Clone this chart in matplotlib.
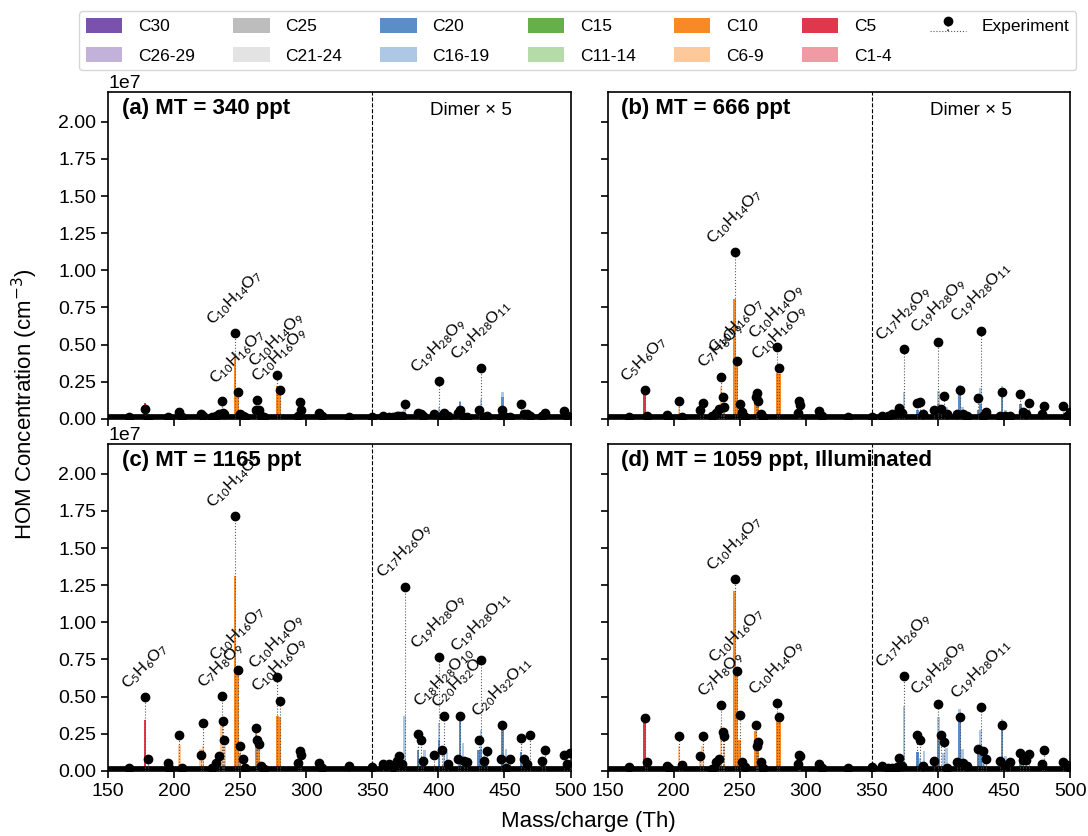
import re
import numpy as np
import matplotlib
matplotlib.use("Agg")
import matplotlib.pyplot as plt
from matplotlib.patches import Patch
from matplotlib.ticker import MultipleLocator

plt.rcParams['font.family'] = ['Liberation Sans', 'DejaVu Sans']
plt.rcParams['mathtext.fontset'] = 'custom'
plt.rcParams['mathtext.rm'] = 'Lato'
plt.rcParams['mathtext.it'] = 'Lato:italic'
plt.rcParams['mathtext.bf'] = 'Lato:bold'

# ---- data (concentrations in units of 1e7 cm-3; dimer region shown x5) ----
panel_titles = ['(a) MT = 340 ppt', '(b) MT = 666 ppt',
                '(c) MT = 1165 ppt', '(d) MT = 1059 ppt, Illuminated']

exp_mz = [166.0, 178.0, 180.0, 195.0, 196.5, 204.0, 206.0, 220.0, 222.0, 229.0,
          232.0, 234.0, 236.0, 237.0, 238.0, 246.1, 248.1, 250.0, 252.0, 254.0,
          262.0, 263.0, 264.0, 266.0, 268.0, 278.1, 280.1, 294.0, 295.0, 296.0,
          310.0, 312.0, 332.0, 350.0, 358.0, 362.5, 365.5, 369.0, 370.5, 372.5,
          374.4, 384.5, 386.5, 388.5, 397.0, 400.4, 402.5, 404.4, 407.0, 414.5,
          416.5, 419.0, 422.0, 430.4, 432.4, 434.5, 436.5, 447.0, 448.5, 451.0,
          454.5, 462.5, 464.5, 467.0, 469.0, 478.5, 480.5, 494.8, 497.5, 499.8]

exp_a = [0.01, 0.07, 0.0, 0.01, 0.0, 0.05, 0.01, 0.03, 0.02, 0.01,
         0.02, 0.034, 0.123, 0.038, 0.03, 0.58, 0.18, 0.03, 0.02, 0.01,
         0.06, 0.13, 0.06, 0.02, 0.01, 0.297, 0.194, 0.02, 0.116, 0.06,
         0.04, 0.02, 0.01, 0.01, 0.02, 0.015, 0.015, 0.02, 0.02, 0.02,
         0.10, 0.04, 0.03, 0.02, 0.03, 0.256, 0.02, 0.04, 0.02, 0.04,
         0.06, 0.01, 0.01, 0.063, 0.343, 0.01, 0.02, 0.01, 0.063, 0.01,
         0.01, 0.10, 0.034, 0.03, 0.02, 0.02, 0.04, 0.054, 0.02, 0.01]

exp_b = [0.015, 0.194, 0.02, 0.027, 0.0, 0.12, 0.01, 0.062, 0.11, 0.02,
         0.038, 0.067, 0.285, 0.15, 0.078, 1.12, 0.388, 0.10, 0.045, 0.01,
         0.145, 0.174, 0.12, 0.033, 0.01, 0.483, 0.345, 0.04, 0.12, 0.094,
         0.056, 0.018, 0.015, 0.015, 0.02, 0.02, 0.03, 0.04, 0.074, 0.04,
         0.469, 0.106, 0.112, 0.03, 0.06, 0.52, 0.07, 0.155, 0.03, 0.03,
         0.195, 0.03, 0.02, 0.139, 0.595, 0.02, 0.05, 0.02, 0.184, 0.02,
         0.02, 0.168, 0.05, 0.03, 0.106, 0.03, 0.09, 0.088, 0.02, 0.05]

exp_c = [0.018, 0.497, 0.08, 0.052, 0.02, 0.244, 0.023, 0.108, 0.32, 0.018,
         0.056, 0.10, 0.503, 0.336, 0.21, 1.716, 0.682, 0.17, 0.08, 0.02,
         0.289, 0.208, 0.18, 0.034, 0.01, 0.632, 0.474, 0.056, 0.131, 0.108,
         0.056, 0.02, 0.034, 0.03, 0.045, 0.05, 0.03, 0.067, 0.10, 0.05,
         1.24, 0.252, 0.208, 0.067, 0.105, 0.764, 0.14, 0.373, 0.05, 0.078,
         0.369, 0.067, 0.06, 0.208, 0.748, 0.07, 0.134, 0.083, 0.306, 0.02,
         0.083, 0.219, 0.083, 0.045, 0.239, 0.07, 0.139, 0.105, 0.045, 0.123]

exp_d = [0.03, 0.353, 0.063, 0.034, 0.02, 0.233, 0.04, 0.10, 0.238, 0.016,
         0.063, 0.081, 0.443, 0.26, 0.238, 1.29, 0.674, 0.376, 0.063, 0.03,
         0.308, 0.17, 0.192, 0.057, 0.018, 0.455, 0.362, 0.045, 0.109, 0.10,
         0.045, 0.018, 0.02, 0.027, 0.034, 0.02, 0.022, 0.03, 0.085, 0.034,
         0.64, 0.242, 0.206, 0.034, 0.067, 0.453, 0.242, 0.198, 0.022, 0.06,
         0.364, 0.056, 0.034, 0.146, 0.431, 0.135, 0.079, 0.067, 0.308, 0.04,
         0.063, 0.123, 0.074, 0.074, 0.117, 0.05, 0.139, 0.063, 0.04, 0.02]

bar_mz = [178.0, 180.0, 204.0, 220.0, 222.0, 236.0, 238.0, 246.1, 248.1, 250.0,
          262.0, 264.0, 278.1, 280.1, 294.0, 296.0, 310.0,
          360.5, 374.4, 384.5, 386.5, 389.5, 400.4, 400.4, 404.4, 406.5, 416.5,
          416.5, 418.5, 430.4, 432.4, 432.4, 434.5, 448.5, 448.5, 451.0, 462.5,
          464.5, 466.5, 478.5]
bar_cat = ['C5', 'C5', 'C6-9', 'C6-9', 'C6-9', 'C6-9', 'C6-9', 'C10', 'C10', 'C10',
           'C10', 'C10', 'C10', 'C10', 'C10', 'C10', 'C10',
           'C16-19', 'C16-19', 'C20', 'C16-19', 'C16-19', 'C16-19', 'C20', 'C16-19', 'C16-19', 'C16-19',
           'C20', 'C16-19', 'C20', 'C16-19', 'C20', 'C16-19', 'C16-19', 'C20', 'C16-19', 'C20',
           'C16-19', 'C16-19', 'C20']
bar_a = [0.11, 0.01, 0.03, 0.02, 0.02, 0.06, 0.03, 0.417, 0.20, 0.02,
         0.06, 0.05, 0.22, 0.21, 0.03, 0.02, 0.01,
         0.01, 0.067, 0.02, 0.015, 0.03, 0.083, 0.04, 0.03, 0.02, 0.12,
         0.117, 0.04, 0.03, 0.135, 0.06, 0.02, 0.18, 0.15, 0.03, 0.056,
         0.02, 0.02, 0.02]
bar_b = [0.17, 0.01, 0.08, 0.04, 0.06, 0.216, 0.08, 0.81, 0.39, 0.05,
         0.13, 0.12, 0.307, 0.30, 0.05, 0.05, 0.02,
         0.02, 0.184, 0.06, 0.04, 0.07, 0.19, 0.10, 0.08, 0.08, 0.23,
         0.20, 0.08, 0.06, 0.21, 0.10, 0.05, 0.225, 0.20, 0.06, 0.10,
         0.05, 0.04, 0.03]
bar_c = [0.343, 0.03, 0.176, 0.147, 0.165, 0.316, 0.165, 1.314, 0.68, 0.12,
         0.27, 0.18, 0.372, 0.36, 0.07, 0.09, 0.03,
         0.03, 0.373, 0.14, 0.08, 0.14, 0.324, 0.208, 0.15, 0.13, 0.37,
         0.357, 0.19, 0.14, 0.275, 0.145, 0.10, 0.30, 0.28, 0.145, 0.13,
         0.10, 0.06, 0.05]
bar_d = [0.324, 0.02, 0.165, 0.13, 0.165, 0.30, 0.165, 1.21, 0.65, 0.21,
         0.267, 0.17, 0.346, 0.346, 0.06, 0.08, 0.03,
         0.03, 0.438, 0.13, 0.09, 0.135, 0.364, 0.25, 0.12, 0.157, 0.415,
         0.36, 0.15, 0.14, 0.274, 0.15, 0.10, 0.348, 0.30, 0.10, 0.10,
         0.08, 0.05, 0.05]

labels_a = [('C10H14O7', 246.1), ('C10H16O7', 248.1), ('C10H14O9', 278.1),
            ('C10H16O9', 280.1), ('C19H28O9', 400.4), ('C19H28O11', 432.4)]
labels_b = [('C5H6O7', 178.0), ('C7H8O9', 236.0), ('C10H14O7', 246.1),
            ('C10H16O7', 248.1), ('C10H14O9', 278.1), ('C10H16O9', 280.1),
            ('C17H26O9', 374.4), ('C19H28O9', 400.4), ('C19H28O11', 432.4)]
labels_c = [('C5H6O7', 178.0), ('C7H8O9', 236.0), ('C10H14O7', 246.1),
            ('C10H16O7', 248.1), ('C10H14O9', 278.1), ('C10H16O9', 280.1),
            ('C17H26O9', 374.4), ('C19H28O9', 400.4), ('C18H28O10', 404.4),
            ('C20H32O9', 416.5), ('C19H28O11', 432.4), ('C20H32O11', 448.5)]
labels_d = [('C7H8O9', 236.0), ('C10H14O7', 246.1), ('C10H16O7', 248.1),
            ('C10H14O9', 278.1), ('C17H26O9', 374.4), ('C19H28O9', 400.4),
            ('C19H28O11', 432.4)]

legend_cats = ['C30', 'C26-29', 'C25', 'C21-24', 'C20', 'C16-19',
               'C15', 'C11-14', 'C10', 'C6-9', 'C5', 'C1-4']
cat_colors = {'C30': '#7b52ab', 'C26-29': '#c2b1d9', 'C25': '#bdbdbd',
              'C21-24': '#e3e3e3', 'C20': '#5a8ec6', 'C16-19': '#adc8e5',
              'C15': '#65b04a', 'C11-14': '#b5dba8', 'C10': '#f88a25',
              'C6-9': '#fdc99b', 'C5': '#e0374c', 'C1-4': '#f09ba4'}

SCALE = 1e7


def to_math(formula):
    return re.sub(r'(\d+)', r'$_{\1}$', formula)


fig, axes = plt.subplots(2, 2, figsize=(10.88, 8.36), dpi=100,
                         sharex=True, sharey=True)
fig.subplots_adjust(left=0.0993, right=0.9835, bottom=0.0778, top=0.890,
                    wspace=0.08, hspace=0.0765)

panels = [(exp_a, bar_a, labels_a), (exp_b, bar_b, labels_b),
          (exp_c, bar_c, labels_c), (exp_d, bar_d, labels_d)]

stem_handle = None
for k, (ax, title, (ev, bv, labs)) in enumerate(zip(axes.flat, panel_titles, panels)):
    ev = np.array(ev) * SCALE
    bv = np.array(bv) * SCALE
    # model bars: tallest first so smaller ones stay visible
    order = np.argsort(-bv)
    for i in order:
        ax.bar(bar_mz[i], bv[i], width=1.9, color=cat_colors[bar_cat[i]],
               linewidth=0, zorder=2)

    ax.axhline(0, color='k', lw=7, zorder=3)
    st = ax.stem(exp_mz, ev, linefmt=':', markerfmt='o', basefmt=':')
    st.stemlines.set_color('0.35')
    st.stemlines.set_linewidth(0.8)
    st.stemlines.set_zorder(4)
    st.markerline.set_color('k')
    st.markerline.set_markersize(6)
    st.markerline.set_zorder(5)
    st.baseline.set_color('0.35')
    st.baseline.set_linewidth(0.8)
    if stem_handle is None:
        stem_handle = st

    lookup = dict(zip(exp_mz, ev))
    for formula, mz in labs:
        ax.annotate(to_math(formula), (mz, lookup[mz]), xytext=(0, 3),
                    textcoords='offset points', rotation=45,
                    ha='center', va='bottom', fontsize=11.5,
                    family='Lato', zorder=6)

    ax.axvline(350, color='k', ls='--', lw=0.8)
    ax.text(0.03, 0.982, title, transform=ax.transAxes, ha='left', va='top',
            fontsize=16, fontweight='bold')
    if k < 2:
        ax.text(425, 0.97, 'Dimer \u00d7 5', transform=ax.get_xaxis_transform(),
                ha='center', va='top', fontsize=13.5)

    ax.set_xlim(150, 500)
    ax.set_ylim(0, 2.2e7)
    ax.yaxis.set_major_locator(MultipleLocator(0.25e7))
    ax.xaxis.set_major_locator(MultipleLocator(50))
    ax.tick_params(labelsize=14, length=5, width=1.2)
    ax.yaxis.get_offset_text().set_fontsize(14)
    for sp in ax.spines.values():
        sp.set_linewidth(1.2)

handles = [Patch(facecolor=cat_colors[c], label=c) for c in legend_cats]
handles.append(stem_handle)
names = legend_cats + ['Experiment']
fig.legend(handles, names, loc='upper center', bbox_to_anchor=(0.531, 0.997),
           ncol=7, fontsize=12.5, handlelength=2.1, handleheight=0.9,
           columnspacing=2.2, handletextpad=0.9, labelspacing=0.75)

fig.text(0.023, 0.516, 'HOM Concentration (cm$^{-3}$)', rotation=90,
         ha='center', va='center', fontsize=16, math_fontfamily='dejavusans')
fig.text(0.541, 0.017, 'Mass/charge (Th)', ha='center', va='center',
         fontsize=16)

fig.savefig('out.png', dpi=100)
